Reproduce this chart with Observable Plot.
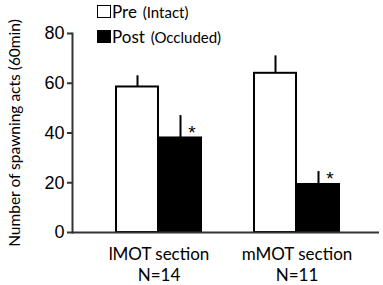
<!DOCTYPE html>
<html>
<head>
<meta charset="utf-8">
<script src="https://cdn.jsdelivr.net/npm/d3@7"></script>
<script src="https://cdn.jsdelivr.net/npm/@observablehq/plot@0.6"></script>
<style>
  body { margin: 0; background: #fff; }
  #wrap { position: relative; width: 383px; height: 285px; }
  .legend-row { position: absolute; left: 97px; font-family: Lato, sans-serif; font-size: 17px; line-height: 17px; color: #000; white-space: nowrap; }
  .sw { display: inline-block; vertical-align: baseline; width: 14px; height: 13px; box-sizing: border-box; border: 1.8px solid #000; margin-right: 1px; }
  .small { font-size: 15px; margin-left: 2px; }
</style>
</head>
<body>
<div id="wrap"></div>
<script>
// ---- data ----
const sections = ["lMOT", "mMOT"];
const sectionLabels = ["lMOT section", "mMOT section"];
const sampleSizes = ["N=14", "N=11"];
const preMean = [58.5, 64];
const preUpper = [63, 71];
const postMean = [38, 19.3];
const postUpper = [47, 24.5];
const significant = [true, true];
const yTicks = [0, 20, 40, 60, 80];
const yLabel = "Number of spawning acts (60min)";
const legendLabels = [["Pre", "(Intact)"], ["Post", "(Occluded)"]];
const legendFills = ["#fff", "#000"];

// ---- tables ----
const pre = sections.map((s, i) => ({section: s, mean: preMean[i], upper: preUpper[i]}));
const post = sections.map((s, i) => ({section: s, mean: postMean[i], upper: postUpper[i], sig: significant[i]}));
const cats = sections.map((s, i) => ({section: s, label: sectionLabels[i] + "\n" + sampleSizes[i]}));

const chart = Plot.plot({
  width: 383,
  height: 285,
  marginLeft: 72,
  marginRight: 4,
  marginTop: 33,
  marginBottom: 53,
  style: {background: "#fff", color: "#000"},
  x: {type: "band", domain: sections, paddingInner: 0.3813, paddingOuter: 0.2968, align: 0.527, axis: null},
  y: {domain: [0, 80], axis: null},
  marks: [
    Plot.barY(pre, {x: "section", y: "mean", fill: "white", stroke: "black", strokeWidth: 2, insetRight: 43}),
    Plot.barY(post, {x: "section", y: "mean", fill: "black", stroke: "black", strokeWidth: 2, insetLeft: 43}),
    Plot.ruleX(pre, {x: "section", y1: "mean", y2: "upper", dx: -21.5, stroke: "black", strokeWidth: 2}),
    Plot.ruleX(post, {x: "section", y1: "mean", y2: "upper", dx: 21.5, stroke: "black", strokeWidth: 2}),
    Plot.text(post.filter(d => d.sig), {x: "section", y: "mean", text: () => "*", dx: 33, dy: 1, lineAnchor: "bottom", fontSize: 19, fontFamily: "Liberation Sans, Arial, sans-serif"}),
    Plot.ruleY([0], {stroke: "#333", strokeWidth: 2}),
    Plot.axisY({ticks: yTicks, tickSize: 5, tickPadding: 3, label: null, fontSize: 18, fontFamily: "Liberation Sans, Arial, sans-serif", strokeWidth: 2, stroke: "#333"}),
    Plot.axisY({ticks: [], tickSize: 0, label: yLabel, labelAnchor: "center", labelArrow: "none", labelOffset: 64, fontSize: 15.5, fontFamily: "Lato, sans-serif"}),
    Plot.frame({anchor: "left", stroke: "#333", strokeWidth: 2}),
    Plot.text(cats, {x: "section", text: "label", frameAnchor: "bottom", lineAnchor: "top", dy: 13, fontSize: 17, lineHeight: 1.22, fontFamily: "Lato, sans-serif"})
  ]
});

const wrap = document.getElementById("wrap");
wrap.appendChild(chart);

// legend overlay
const tops = [3.4, 27.9];
legendLabels.forEach((lab, i) => {
  const row = document.createElement("div");
  row.className = "legend-row";
  row.style.top = tops[i] + "px";
  const sw = document.createElement("span");
  sw.className = "sw";
  sw.style.background = legendFills[i];
  row.appendChild(sw);
  const main = document.createElement("span");
  main.textContent = lab[0];
  row.appendChild(main);
  const small = document.createElement("span");
  small.className = "small";
  small.textContent = " " + lab[1];
  row.appendChild(small);
  wrap.appendChild(row);
});
</script>
</body>
</html>
